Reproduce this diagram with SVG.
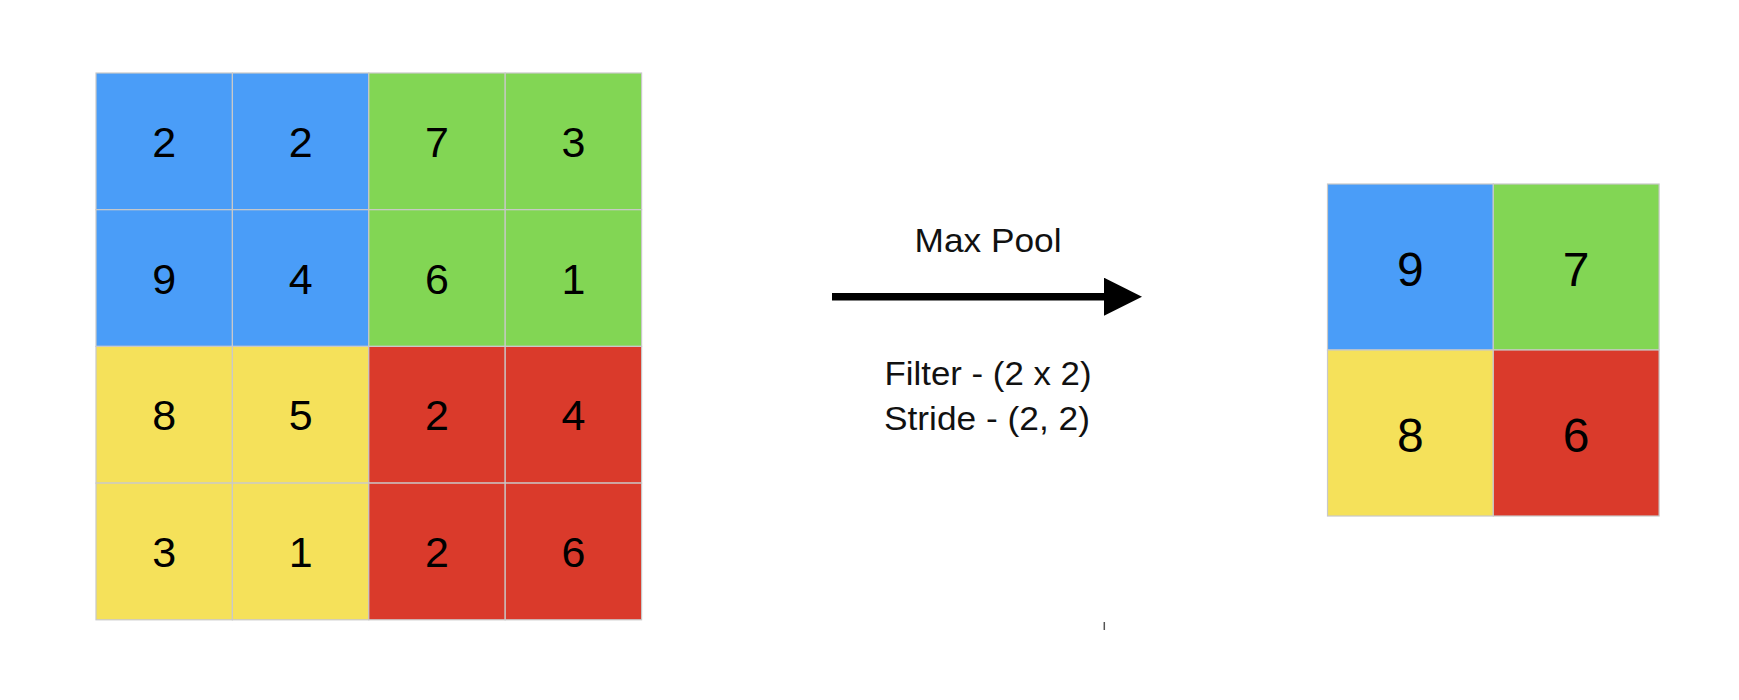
<svg xmlns="http://www.w3.org/2000/svg" width="1739" height="700" viewBox="0 0 1739 700">
<style>
.b{fill:#4a9df8}.g{fill:#82d654}.y{fill:#f5e15a}.r{fill:#da3a2b}
.cell{stroke:#c9c9c9;stroke-width:1.2}
.n{font-family:"Liberation Sans",Arial,sans-serif;font-size:43px;fill:#000;text-anchor:middle}
.m{font-family:"Liberation Sans",Arial,sans-serif;font-size:48px;fill:#000;text-anchor:middle}
.t{font-family:"Liberation Sans",Arial,sans-serif;font-size:33px;fill:#111;text-anchor:middle}
</style>
<defs>
<marker id="ah" markerUnits="userSpaceOnUse" markerWidth="40" markerHeight="40" refX="0" refY="19" orient="auto">
<path d="M0,0 L38,19 L0,38 Z" fill="#000"/>
</marker>
</defs>
<rect width="1739" height="700" fill="#fff"/>
<g id="input-grid">
<g id="in-r0c0"><rect class="cell b" x="96" y="73" width="136.4" height="136.7"/><text class="n" x="164.2" y="157">2</text></g>
<g id="in-r0c1"><rect class="cell b" x="232.4" y="73" width="136.4" height="136.7"/><text class="n" x="300.6" y="157">2</text></g>
<g id="in-r0c2"><rect class="cell g" x="368.8" y="73" width="136.4" height="136.7"/><text class="n" x="437" y="157">7</text></g>
<g id="in-r0c3"><rect class="cell g" x="505.2" y="73" width="136.4" height="136.7"/><text class="n" x="573.4" y="157">3</text></g>
<g id="in-r1c0"><rect class="cell b" x="96" y="209.7" width="136.4" height="136.7"/><text class="n" x="164.2" y="293.7">9</text></g>
<g id="in-r1c1"><rect class="cell b" x="232.4" y="209.7" width="136.4" height="136.7"/><text class="n" x="300.6" y="293.7">4</text></g>
<g id="in-r1c2"><rect class="cell g" x="368.8" y="209.7" width="136.4" height="136.7"/><text class="n" x="437" y="293.7">6</text></g>
<g id="in-r1c3"><rect class="cell g" x="505.2" y="209.7" width="136.4" height="136.7"/><text class="n" x="573.4" y="293.7">1</text></g>
<g id="in-r2c0"><rect class="cell y" x="96" y="346.4" width="136.4" height="136.7"/><text class="n" x="164.2" y="430.4">8</text></g>
<g id="in-r2c1"><rect class="cell y" x="232.4" y="346.4" width="136.4" height="136.7"/><text class="n" x="300.6" y="430.4">5</text></g>
<g id="in-r2c2"><rect class="cell r" x="368.8" y="346.4" width="136.4" height="136.7"/><text class="n" x="437" y="430.4">2</text></g>
<g id="in-r2c3"><rect class="cell r" x="505.2" y="346.4" width="136.4" height="136.7"/><text class="n" x="573.4" y="430.4">4</text></g>
<g id="in-r3c0"><rect class="cell y" x="96" y="483.1" width="136.4" height="136.7"/><text class="n" x="164.2" y="567.1">3</text></g>
<g id="in-r3c1"><rect class="cell y" x="232.4" y="483.1" width="136.4" height="136.7"/><text class="n" x="300.6" y="567.1">1</text></g>
<g id="in-r3c2"><rect class="cell r" x="368.8" y="483.1" width="136.4" height="136.7"/><text class="n" x="437" y="567.1">2</text></g>
<g id="in-r3c3"><rect class="cell r" x="505.2" y="483.1" width="136.4" height="136.7"/><text class="n" x="573.4" y="567.1">6</text></g>
</g>
<g id="output-grid">
<g id="out-r0c0"><rect class="cell b" x="1327.5" y="184" width="165.8" height="166"/><text class="m" x="1410.4" y="286">9</text></g>
<g id="out-r0c1"><rect class="cell g" x="1493.3" y="184" width="165.8" height="166"/><text class="m" x="1576.2" y="286">7</text></g>
<g id="out-r1c0"><rect class="cell y" x="1327.5" y="350" width="165.8" height="166"/><text class="m" x="1410.4" y="452">8</text></g>
<g id="out-r1c1"><rect class="cell r" x="1493.3" y="350" width="165.8" height="166"/><text class="m" x="1576.2" y="452">6</text></g>
</g>
<g id="connectors">
<line x1="832" y1="296.7" x2="1104" y2="296.7" stroke="#000" stroke-width="7.5" marker-end="url(#ah)"/>
</g>
<g id="labels">
<text class="t" x="988" y="251.5" textLength="147" lengthAdjust="spacingAndGlyphs">Max Pool</text>
<text class="t" x="988" y="385" textLength="207" lengthAdjust="spacingAndGlyphs">Filter - (2 x 2)</text>
<text class="t" x="987" y="430" textLength="206" lengthAdjust="spacingAndGlyphs">Stride - (2, 2)</text>
</g>
<line x1="1104.3" y1="622" x2="1104.3" y2="630" stroke="#555" stroke-width="1.5"/>
</svg>
